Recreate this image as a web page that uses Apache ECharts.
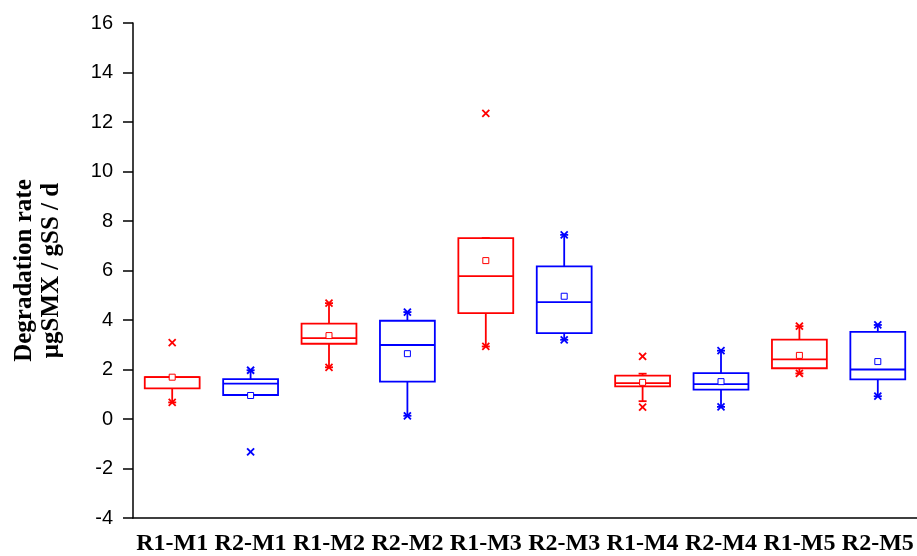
<!DOCTYPE html>
<html><head><meta charset="utf-8">
<script src="https://cdn.jsdelivr.net/npm/echarts@6/dist/echarts.min.js"></script>
<style>html,body{margin:0;padding:0;background:#fff}#c{width:917px;height:556px}</style>
</head><body><div id="c"></div>
<script>
// ---- data ----
const categories = ['R1-M1','R2-M1','R1-M2','R2-M2','R1-M3','R2-M3','R1-M4','R2-M4','R1-M5','R2-M5'];
const whiskerLow  = [0.67, 0.97, 2.09, 0.13, 2.93, 3.20, 0.72, 0.49, 1.84, 0.92];
const q1          = [1.24, 0.97, 3.04, 1.51, 4.28, 3.47, 1.32, 1.19, 2.05, 1.60];
const median      = [1.69, 1.43, 3.27, 2.99, 5.77, 4.72, 1.45, 1.41, 2.41, 2.00];
const q3          = [1.69, 1.61, 3.85, 3.97, 7.31, 6.17, 1.75, 1.85, 3.21, 3.52];
const whiskerHigh = [1.69, 1.97, 4.68, 4.32, 7.31, 7.44, 1.83, 2.76, 3.75, 3.80];
const mean        = [1.69, 0.95, 3.37, 2.64, 6.40, 4.96, 1.48, 1.51, 2.57, 2.32];
const upperMark   = [3.09, 1.97, 4.68, 4.32, 12.35, 7.44, 2.53, 2.76, 3.75, 3.80];
const lowerMark   = [0.67, -1.33, 2.09, 0.13, 2.93, 3.20, 0.48, 0.49, 1.84, 0.92];
const yTicks = {min: -4, max: 16, interval: 2};

// ---- build ----
const RED = '#ff0000', BLUE = '#0000ff';
const boxData = categories.map((c, i) => [i, whiskerLow[i], q1[i], median[i], q3[i], whiskerHigh[i], mean[i], upperMark[i], lowerMark[i]]);

function renderBox(params, api) {
  const i = api.value(0);
  const color = categories[i].startsWith('R1') ? RED : BLUE;
  const bw = api.size([1, 0])[0] * 0.7;
  const pt = k => api.coord([i, api.value(k)]);
  const pLo = pt(1), pQ1 = pt(2), pMed = pt(3), pQ3 = pt(4), pHi = pt(5), pMean = pt(6), pUp = pt(7), pDn = pt(8);
  const cx = pQ1[0];
  const ls = {stroke: color, lineWidth: 1.8, fill: null};
  const children = [];
  const line = (x1, y1, x2, y2) => children.push({type: 'line', shape: {x1, y1, x2, y2}, style: ls});
  if (pHi[1] < pQ3[1]) line(cx, pHi[1], cx, pQ3[1]);
  if (pLo[1] > pQ1[1]) line(cx, pQ1[1], cx, pLo[1]);
  line(cx - 4, pHi[1], cx + 4, pHi[1]);
  line(cx - 4, pLo[1], cx + 4, pLo[1]);
  children.push({type: 'rect', shape: {x: cx - bw / 2, y: pQ3[1], width: bw, height: pQ1[1] - pQ3[1]}, style: {stroke: color, lineWidth: 1.8, fill: null}});
  line(cx - bw / 2, pMed[1], cx + bw / 2, pMed[1]);
  children.push({type: 'rect', shape: {x: cx - 3, y: pMean[1] - 3, width: 6, height: 6}, style: {stroke: color, lineWidth: 1, fill: '#fff'}});
  [pUp, pDn].forEach(p => {
    line(p[0] - 3.5, p[1] - 3.5, p[0] + 3.5, p[1] + 3.5);
    line(p[0] - 3.5, p[1] + 3.5, p[0] + 3.5, p[1] - 3.5);
  });
  return {type: 'group', children};
}

const chart = echarts.init(document.getElementById('c'));
chart.setOption({
  animation: false,
  grid: {left: 133, right: 0, top: 23, bottom: 37},
  xAxis: {
    type: 'category', data: categories, boundaryGap: true,
    axisLine: {onZero: false, lineStyle: {color: '#000', width: 1.5}},
    axisTick: {alignWithLabel: true, length: 10, lineStyle: {color: '#000', width: 1.5}},
    axisLabel: {interval: 0, margin: 14, color: '#000', fontFamily: 'Liberation Serif', fontWeight: 'bold', fontSize: 24}
  },
  yAxis: {
    type: 'value', min: yTicks.min, max: yTicks.max, interval: yTicks.interval,
    name: 'Degradation rate\nμgSMX / gSS / d', nameLocation: 'middle', nameRotate: 90, nameGap: 68,
    nameTextStyle: {color: '#000', fontFamily: 'Liberation Serif', fontWeight: 'bold', fontSize: 25, lineHeight: 27},
    axisLine: {show: true, lineStyle: {color: '#000', width: 1.5}},
    axisTick: {show: true, length: 10, lineStyle: {color: '#000', width: 1.5}},
    splitLine: {show: false},
    axisLabel: {margin: 20, color: '#000', fontFamily: 'Liberation Sans', fontSize: 20}
  },
  series: [{
    type: 'custom', renderItem: renderBox, data: boxData,
    encode: {x: 0, y: [1, 2, 3, 4, 5, 6, 7, 8]}
  }]
});
</script></body></html>
